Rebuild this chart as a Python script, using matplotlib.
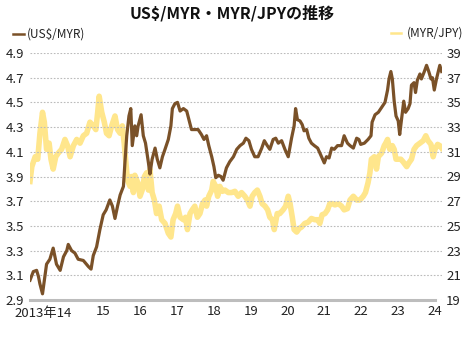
import numpy as np
import matplotlib.pyplot as plt
from matplotlib.lines import Line2D
import matplotlib.transforms as mtransforms

plt.rcParams['font.family'] = ['Noto Sans CJK JP', 'DejaVu Sans']

# US$/MYR (left axis)
usd_myr_year = [2013.00, 2013.09, 2013.18, 2013.23, 2013.27, 2013.34, 2013.45, 2013.54, 2013.63, 2013.72,
                2013.82, 2013.91, 2014.00, 2014.04, 2014.13, 2014.22, 2014.31, 2014.45, 2014.59, 2014.66,
                2014.72, 2014.81, 2014.90, 2014.99, 2015.07, 2015.17, 2015.24, 2015.31, 2015.38, 2015.45,
                2015.54, 2015.58, 2015.63, 2015.69, 2015.74, 2015.78, 2015.85, 2015.90, 2015.94, 2016.02,
                2016.08, 2016.14, 2016.22, 2016.26, 2016.32, 2016.40, 2016.46, 2016.53, 2016.60, 2016.67,
                2016.76, 2016.83, 2016.87, 2016.94, 2017.01, 2017.08, 2017.17, 2017.26, 2017.33, 2017.39,
                2017.48, 2017.57, 2017.66, 2017.73, 2017.80, 2017.86, 2017.94, 2018.00, 2018.05, 2018.12,
                2018.19, 2018.25, 2018.34, 2018.43, 2018.53, 2018.62, 2018.71, 2018.80, 2018.87, 2018.95,
                2019.02, 2019.11, 2019.20, 2019.30, 2019.37, 2019.45, 2019.52, 2019.61, 2019.68, 2019.75,
                2019.84, 2019.93, 2020.02, 2020.11, 2020.18, 2020.22, 2020.27, 2020.34, 2020.40, 2020.45,
                2020.52, 2020.58, 2020.65, 2020.73, 2020.82, 2020.88, 2020.94, 2021.00, 2021.06, 2021.13,
                2021.20, 2021.27, 2021.36, 2021.47, 2021.54, 2021.63, 2021.70, 2021.79, 2021.88, 2021.94,
                2021.99, 2022.09, 2022.19, 2022.27, 2022.30, 2022.38, 2022.47, 2022.56, 2022.65, 2022.72,
                2022.76, 2022.81, 2022.85, 2022.90, 2022.95, 2023.01, 2023.05, 2023.10, 2023.16, 2023.21,
                2023.28, 2023.33, 2023.37, 2023.44, 2023.48, 2023.53, 2023.60, 2023.64, 2023.72, 2023.78,
                2023.84, 2023.90, 2023.94, 2023.99, 2024.05, 2024.10, 2024.14, 2024.19]
usd_myr = [3.06, 3.13, 3.14, 3.09, 3.03, 2.95, 3.19, 3.23, 3.32, 3.19,
           3.14, 3.25, 3.30, 3.35, 3.30, 3.28, 3.23, 3.22, 3.17, 3.15,
           3.26, 3.33, 3.47, 3.59, 3.63, 3.71, 3.66, 3.56, 3.66, 3.75,
           3.82, 4.01, 4.23, 4.39, 4.45, 4.15, 4.31, 4.23, 4.31, 4.40,
           4.23, 4.17, 4.01, 3.92, 4.04, 4.13, 4.04, 3.97, 4.06, 4.12,
           4.20, 4.31, 4.45, 4.49, 4.50, 4.43, 4.45, 4.43, 4.35, 4.28,
           4.28, 4.28, 4.24, 4.20, 4.23, 4.15, 4.06, 3.98, 3.89, 3.91,
           3.90, 3.87, 3.97, 4.02, 4.06, 4.12, 4.15, 4.17, 4.21, 4.19,
           4.12, 4.06, 4.06, 4.13, 4.19, 4.15, 4.12, 4.20, 4.21, 4.17,
           4.19, 4.12, 4.06, 4.21, 4.31, 4.45, 4.36, 4.35, 4.32, 4.27,
           4.28, 4.21, 4.17, 4.15, 4.13, 4.09, 4.05, 4.01, 4.06, 4.05,
           4.13, 4.12, 4.15, 4.15, 4.23, 4.17, 4.15, 4.13, 4.21, 4.20,
           4.16, 4.17, 4.20, 4.23, 4.34, 4.40, 4.42, 4.46, 4.50, 4.60,
           4.69, 4.75, 4.69, 4.51, 4.39, 4.35, 4.24, 4.36, 4.51, 4.42,
           4.45, 4.49, 4.64, 4.66, 4.58, 4.68, 4.73, 4.69, 4.75, 4.80,
           4.75, 4.69, 4.70, 4.60, 4.69, 4.75, 4.80, 4.75]

# MYR/JPY (right axis)
myr_jpy_year = [2013.00, 2013.05, 2013.14, 2013.21, 2013.27, 2013.34, 2013.39, 2013.45, 2013.52, 2013.57,
                2013.63, 2013.70, 2013.77, 2013.86, 2013.95, 2014.02, 2014.09, 2014.18, 2014.27, 2014.36,
                2014.45, 2014.54, 2014.63, 2014.72, 2014.79, 2014.84, 2014.88, 2014.95, 2015.02, 2015.08,
                2015.15, 2015.22, 2015.31, 2015.38, 2015.45, 2015.51, 2015.56, 2015.60, 2015.65, 2015.72,
                2015.76, 2015.81, 2015.85, 2015.93, 2015.99, 2016.05, 2016.11, 2016.17, 2016.22, 2016.26,
                2016.32, 2016.38, 2016.44, 2016.51, 2016.58, 2016.67, 2016.76, 2016.83, 2016.89, 2016.96,
                2017.01, 2017.08, 2017.17, 2017.23, 2017.28, 2017.35, 2017.41, 2017.48, 2017.55, 2017.62,
                2017.69, 2017.76, 2017.80, 2017.86, 2017.94, 2017.98, 2018.05, 2018.10, 2018.16, 2018.23,
                2018.30, 2018.39, 2018.48, 2018.57, 2018.66, 2018.75, 2018.84, 2018.91, 2018.98, 2019.04,
                2019.11, 2019.18, 2019.25, 2019.31, 2019.39, 2019.46, 2019.52, 2019.59, 2019.64, 2019.72,
                2019.79, 2019.88, 2019.95, 2020.02, 2020.07, 2020.13, 2020.18, 2020.25, 2020.32, 2020.38,
                2020.47, 2020.56, 2020.65, 2020.74, 2020.82, 2020.88, 2020.94, 2021.02, 2021.09, 2021.15,
                2021.22, 2021.29, 2021.38, 2021.47, 2021.54, 2021.63, 2021.70, 2021.79, 2021.88, 2021.97,
                2022.06, 2022.12, 2022.19, 2022.24, 2022.28, 2022.36, 2022.42, 2022.47, 2022.56, 2022.63,
                2022.67, 2022.72, 2022.78, 2022.85, 2022.90, 2022.95, 2023.01, 2023.08, 2023.14, 2023.24,
                2023.30, 2023.37, 2023.44, 2023.51, 2023.60, 2023.69, 2023.76, 2023.82, 2023.90, 2023.96,
                2024.01, 2024.08, 2024.14, 2024.19]
myr_jpy = [28.6, 29.8, 30.6, 30.4, 32.5, 34.2, 33.4, 31.2, 31.7, 30.4,
           29.6, 30.6, 30.9, 31.2, 32.0, 31.5, 30.6, 31.5, 32.0, 31.7,
           32.3, 32.5, 33.4, 33.1, 32.8, 34.2, 35.5, 34.2, 33.4, 32.5,
           32.3, 33.1, 33.9, 32.8, 32.5, 33.1, 31.7, 30.4, 28.7, 28.2,
           29.0, 27.7, 29.1, 28.5, 27.4, 27.9, 29.0, 29.3, 27.9, 29.6,
           27.7, 27.1, 26.0, 26.6, 25.5, 25.2, 24.4, 24.1, 25.5, 26.0,
           26.6, 25.7, 25.5, 25.7, 24.7, 26.0, 26.3, 26.6, 25.7, 26.0,
           26.8, 27.1, 26.6, 27.4, 27.9, 28.6, 28.2, 27.4, 28.2, 27.8,
           27.9, 27.7, 27.7, 27.8, 27.4, 27.7, 27.4, 27.1, 26.6, 27.4,
           27.7, 27.9, 27.4, 26.8, 26.6, 26.3, 25.7, 25.5, 24.7, 26.0,
           26.0, 26.3, 26.6, 27.4, 26.8, 25.7, 24.7, 24.5, 24.8, 24.9,
           25.2, 25.3, 25.6, 25.5, 25.5, 25.2, 25.9, 26.0, 26.3, 26.8,
           26.8, 26.7, 26.8, 26.6, 26.3, 26.4, 27.1, 27.4, 27.1, 27.1,
           27.4, 27.7, 28.5, 29.3, 30.4, 30.6, 29.6, 30.6, 30.9, 31.5,
           31.7, 32.0, 31.2, 31.5, 31.2, 30.4, 30.4, 30.4, 30.2, 29.8,
           30.1, 30.4, 31.2, 31.5, 31.7, 31.9, 32.3, 31.9, 31.6, 30.6,
           31.2, 31.6, 31.5, 31.3]

year_ticks = [2014, 2015, 2016, 2017, 2018, 2019, 2020, 2021, 2022, 2023, 2024]
year_labels = ['', '15', '16', '17', '18', '19', '20', '21', '22', '23', '24']
left_ticks = [2.9, 3.1, 3.3, 3.5, 3.7, 3.9, 4.1, 4.3, 4.5, 4.7, 4.9]
right_ticks = [19, 21, 23, 25, 27, 29, 31, 33, 35, 37, 39]

brown = '#7a5128'
yellow = '#ffe68c'
txt = '#222222'

fig = plt.figure(figsize=(4.65, 3.4), dpi=100)
ax = fig.add_axes([30/465, 40/340, 412/465, 247/340])
ax2 = ax.twinx()

ax2.plot(myr_jpy_year, myr_jpy, color=yellow, lw=4.0, solid_joinstyle='round')
ax.plot(usd_myr_year, usd_myr, color=brown, lw=2.3, solid_joinstyle='round')

ax.set_xlim(2013, 2024.2)
ax.set_ylim(2.9, 4.9)
ax2.set_ylim(19, 39)

ax.set_yticks(left_ticks)
ax.set_yticklabels(['%.1f' % v for v in left_ticks])
ax2.set_yticks(right_ticks)
ax2.set_yticklabels([str(v) for v in right_ticks])
ax.set_xticks(year_ticks)
ax.set_xticklabels(year_labels)

for a in (ax, ax2):
    for s in a.spines.values():
        s.set_visible(False)
    a.tick_params(length=0, labelsize=9.5, colors=txt)
ax.tick_params(axis='y', pad=4)
ax2.tick_params(axis='y', pad=3)
ax.tick_params(axis='x', pad=3.5)

ax.yaxis.grid(True, color='#bbbbbb', linestyle=(0, (1.5, 1.5)), lw=0.8)
ax.set_axisbelow(True)
ax.set_zorder(ax2.get_zorder() + 1) # brown line drawn above yellow one
ax.patch.set_visible(False)
# grey base line from 2013 to 2024
ax.axhline(2.9, xmin=0, xmax=(2024 - 2013) / (2024.2 - 2013), color='#bdbdbd', lw=2.2, clip_on=False, zorder=0.5)

# first label "2013年14"
trans = mtransforms.blended_transform_factory(ax.transData, ax.transAxes)
ax.text(2014.15, -0.027, '2013年14', transform=trans, ha='right', va='top', fontsize=9.5, color=txt)

# title and legend
fig.text(0.5, 1 - 13/340, 'US$/MYR・MYR/JPYの推移', ha='center', va='center', fontsize=11.5, fontweight='bold', color='#111111')
fig.add_artist(Line2D([13/465, 24/465], [1 - 34/340, 1 - 34/340], color=brown, lw=1.8))
fig.text(27/465, 1 - 34/340, '(US$/MYR)', ha='left', va='center', fontsize=8.5, color=txt)
fig.add_artist(Line2D([391/465, 401/465], [1 - 33/340, 1 - 33/340], color=yellow, lw=1.8))
fig.text(463/465, 1 - 33/340, '(MYR/JPY)', ha='right', va='center', fontsize=8.5, color=txt)

fig.savefig('out.png', dpi=100)
